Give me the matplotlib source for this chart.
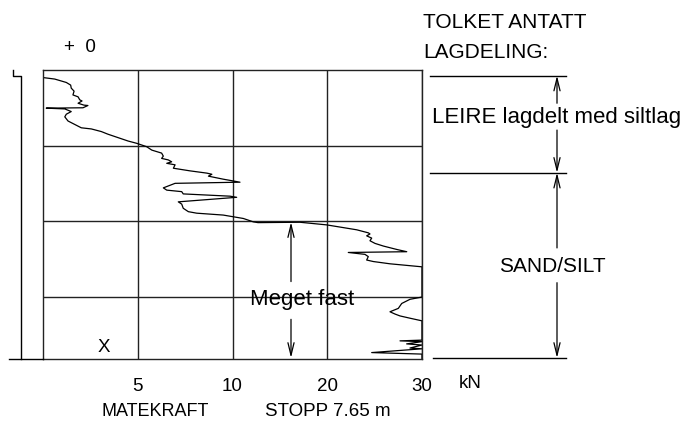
import numpy as np
import matplotlib.pyplot as plt
import matplotlib.transforms as mtransforms

# =========================
# data
# =========================
kraft = [0, 0.62, 1.23, 1.46, 1.49, 1.64, 1.58, 1.85, 1.94, 2.06, 1.85, 2.16, 2.37, 2.11,
         0.17, 1.15, 1.49, 1.23, 1.15, 1.32, 1.67, 2.02, 2.55, 3.08, 3.43, 3.96, 4.49,
         4.94, 5.47, 5.74, 6.26, 6.35, 6.26, 6.61, 6.79, 6.53, 6.97, 6.88, 7.76, 8.65,
         8.91, 8.73, 9.51, 9.96, 10.79, 6.97, 6.35, 6.53, 7.32, 7.40, 9.87, 10.44, 7.14,
         7.32, 7.40, 7.67, 8.11, 9.51, 11.14, 12.20, 12.69, 17.12, 19.94, 23.11, 24.33,
         24.51, 24.16, 24.69, 24.51, 25.04, 25.92, 27.33, 28.39, 22.22, 23.98, 24.33,
         24.16, 24.86, 26.62, 30, 30, 28.73, 27.86, 27.50, 26.62, 27.15, 27.68, 28.73,
         30, 30, 27.68, 30, 28.38, 30, 28.73, 30, 24.69, 30, 30]
dybde = [0.20, 0.24, 0.33, 0.40, 0.48, 0.56, 0.66, 0.71, 0.79, 0.82, 0.88, 0.93, 0.94, 1.00,
         1.01, 1.03, 1.10, 1.17, 1.24, 1.35, 1.44, 1.53, 1.56, 1.63, 1.70, 1.79, 1.88,
         1.94, 2.03, 2.12, 2.20, 2.28, 2.34, 2.38, 2.43, 2.47, 2.51, 2.60, 2.67, 2.73,
         2.76, 2.81, 2.89, 2.93, 2.97, 3.00, 3.12, 3.18, 3.22, 3.28, 3.34, 3.37, 3.49,
         3.55, 3.66, 3.75, 3.79, 3.84, 3.93, 4.02, 4.04, 4.03, 4.10, 4.23, 4.31,
         4.34, 4.39, 4.45, 4.52, 4.59, 4.66, 4.75, 4.81, 4.83, 4.88, 4.94,
         5.03, 5.07, 5.13, 5.21, 6.01, 6.07, 6.18, 6.31, 6.40, 6.46, 6.51, 6.57,
         6.64, 7.15, 7.17, 7.19, 7.25, 7.28, 7.36, 7.38, 7.48, 7.52, 7.65]

x_ticks = [5, 10, 20, 30]
y_grid = [2, 4, 6]
stopp = 7.65

lag_grenser = [0.15, 2.72, 7.62]
lag_navn = ["LEIRE lagdelt med siltlag", "SAND/SILT"]
# where the arrow lines break for the layer text (depth, m)
lag_gap = [(0.88, 1.59), (4.71, 5.63)]
fast_topp = 4.03
fast_gap = (5.6, 6.6)

# stykkevis x-skala: 0-5, 5-10, 10-20, 20-30 like brede
brudd = [0, 5, 10, 20, 30]
def fwd(x):
    return np.interp(x, brudd, [0, 1, 2, 3, 4])
def inv(c):
    return np.interp(c, [0, 1, 2, 3, 4], brudd)

plt.rcParams['font.family'] = ['Liberation Sans', 'DejaVu Sans']

W, H = 691, 426
fig = plt.figure(figsize=(W / 100, H / 100), dpi=100)

# =========================
# hovedrute
# =========================
ax = fig.add_axes([43 / W, (H - 359) / H, 379 / W, 289 / H])
ax.set_xscale('function', functions=(fwd, inv))
ax.set_xlim(0, 30)
ax.set_ylim(stopp, 0)
ax.plot(kraft, dybde, color='black', linewidth=0.9)
ax.set_xticks(x_ticks)
ax.set_xticklabels([str(v) for v in x_ticks], fontsize=13.5)
ax.set_yticks(y_grid)
ax.set_yticklabels([])
ax.tick_params(length=0, pad=14)
ax.grid(True, color='#222222', linewidth=1.0)
for sp in ax.spines.values():
    sp.set_linewidth(1.0)
    sp.set_color('#222222')
ax.patch.set_visible(False)

# =========================
# overlay i piksler
# =========================
ov = fig.add_axes([0, 0, 1, 1])
ov.set_xlim(0, W)
ov.set_ylim(H, 0)
ov.axis('off')
blend = mtransforms.blended_transform_factory(ov.transData, ax.transData)

# venstre markering
ov.plot([13, 13, 21, 21], [70, 76, 76, 359], color='black', linewidth=1.0)
ov.plot([9, 43], [359, 359], color='black', linewidth=1.0)

ov.text(80, 47, "+  0", fontsize=13.5, ha='center', va='center')
ov.text(104, 347, "X", fontsize=13.5, ha='center', va='center')
ov.text(470, 383, "kN", fontsize=13.5, ha='center', va='center')
ov.text(155, 411, "MATEKRAFT", fontsize=13, ha='center', va='center')
ov.text(328, 411, "STOPP 7.65 m", fontsize=13.5, ha='center', va='center')

ov.text(423, 23, "TOLKET ANTATT", fontsize=15, ha='left', va='center')
ov.text(423, 53, "LAGDELING:", fontsize=15, ha='left', va='center')

pil = dict(arrowstyle='->,head_length=0.9,head_width=0.22', lw=0.9,
           color='black', shrinkA=0, shrinkB=0)

# tolket lagdeling
xa = 557
for i, g in enumerate(lag_grenser):
    x0 = 430 if i < 2 else 433
    ov.plot([x0, 566], [g, g], color='black', linewidth=1.0, transform=blend)
for i in range(len(lag_navn)):
    d0, d1 = lag_grenser[i], lag_grenser[i + 1]
    g0, g1 = lag_gap[i]
    ov.annotate('', xy=(xa, d0), xytext=(xa, g0), xycoords=blend,
                textcoords=blend, arrowprops=pil)
    ov.annotate('', xy=(xa, d1), xytext=(xa, g1), xycoords=blend,
                textcoords=blend, arrowprops=pil)
ov.text(557, 118, lag_navn[0], fontsize=16, ha='center', va='center')
ov.text(552, 267, lag_navn[1], fontsize=15, ha='center', va='center')

# "Meget fast"
xm = 291
ov.annotate('', xy=(xm, fast_topp), xytext=(xm, fast_gap[0]), xycoords=blend,
            textcoords=blend, arrowprops=pil)
ov.annotate('', xy=(xm, lag_grenser[2]), xytext=(xm, fast_gap[1]), xycoords=blend,
            textcoords=blend, arrowprops=pil)
ov.text(302, 299, "Meget fast", fontsize=16, ha='center', va='center')

plt.savefig("out.png", dpi=100)
